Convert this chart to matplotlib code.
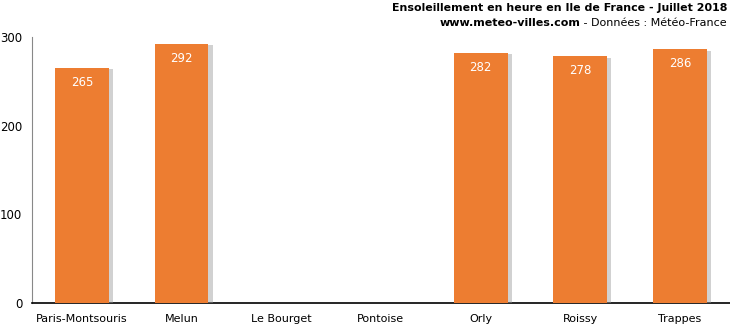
import matplotlib
matplotlib.use("Agg")
import matplotlib.pyplot as plt
import matplotlib.patheffects as pe
import numpy as np

categories = ["Paris-Montsouris", "Melun", "Le Bourget", "Pontoise", "Orly", "Roissy", "Trappes"]
values = [265, 292, np.nan, np.nan, 282, 278, 286]
yticks = [0, 100, 200, 300]

plt.rcParams['font.family'] = ['DejaVu Sans']
fig = plt.figure(figsize=(7.30, 3.26), dpi=100)
ax = fig.add_axes([0.0438, 0.0706, 0.956, 0.816])

x = np.arange(len(categories))
vals = np.array(values, dtype=float)
bars = ax.bar(x, np.nan_to_num(vals), width=0.54, color="#ED7D31", zorder=3)
for b, v in zip(bars, vals):
    if np.isnan(v):
        b.set_visible(False)
        continue
    b.set_path_effects([pe.SimplePatchShadow(offset=(3, -1), shadow_rgbFace="#999999", alpha=0.45), pe.Normal()])
    ax.text(b.get_x() + b.get_width() / 2, v - 16, f"{int(v)}", ha="center", va="center",
            color="white", fontsize=8.5, zorder=4)

ax.set_xlim(-0.5, len(categories) - 0.5)
ax.set_ylim(0, 300)
ax.set_yticks(yticks)
ax.set_xticks(x)
ax.set_xticklabels(categories, fontsize=8)
ax.tick_params(axis="y", labelsize=8.5, length=0, pad=7)
ax.tick_params(axis="x", length=0, pad=8)
ax.spines["top"].set_visible(False)
ax.spines["right"].set_visible(False)
ax.spines["left"].set_color("#888888")
ax.spines["bottom"].set_color("black")
ax.spines["bottom"].set_linewidth(1.2)

fig.text(0.996, 0.975, "Ensoleillement en heure en Ile de France - Juillet 2018",
         ha="right", va="center", fontsize=7.9, fontweight="bold")
t2 = fig.text(0.996, 0.93, " - Données : Météo-France", ha="right", va="center", fontsize=8)
fig.canvas.draw()
bb = t2.get_window_extent()
fig.text(bb.x0 / fig.bbox.width, 0.93, "www.meteo-villes.com", ha="right", va="center",
         fontsize=8, fontweight="bold")

fig.savefig("out.png", dpi=100)
